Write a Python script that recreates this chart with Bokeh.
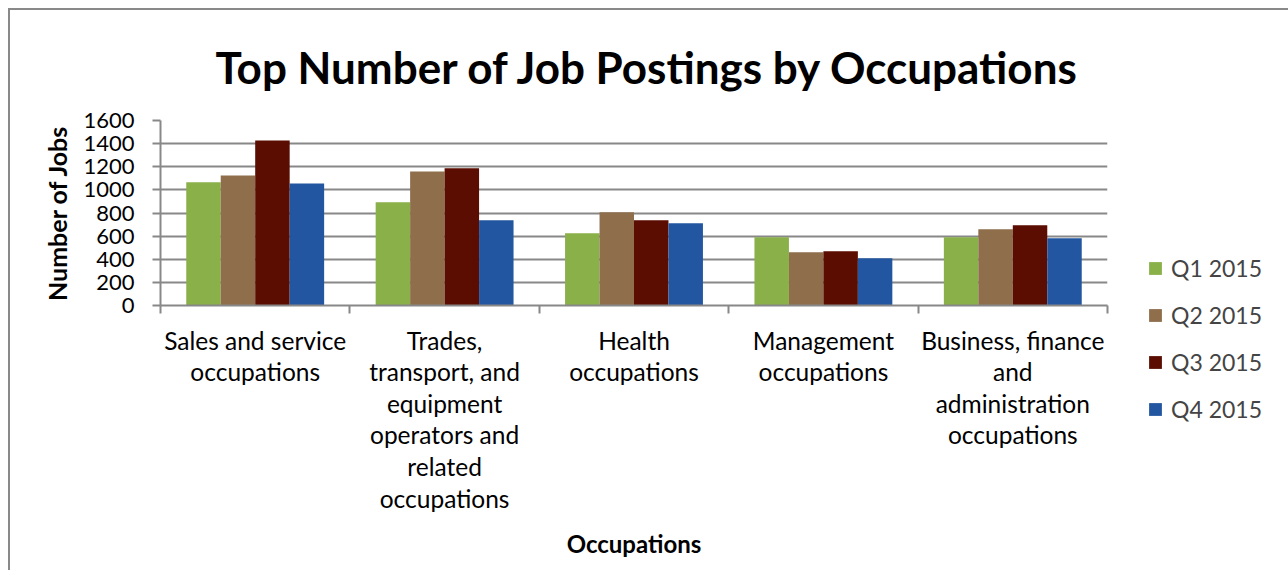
from bokeh.plotting import figure
from bokeh.models import (ColumnDataSource, FixedTicker, Legend, LegendItem, Range1d)
from bokeh.embed import file_html
from bokeh.resources import INLINE

categories = [
    "Sales and service\noccupations",
    "Trades,\ntransport, and\nequipment\noperators and\nrelated\noccupations",
    "Health\noccupations",
    "Management\noccupations",
    "Business, finance\nand\nadministration\noccupations",
]
series_names = ["Q1 2015", "Q2 2015", "Q3 2015", "Q4 2015"]
q1 = [1065, 892, 624, 590, 590]
q2 = [1125, 1160, 806, 460, 659]
q3 = [1427, 1186, 737, 469, 694]
q4 = [1056, 737, 711, 409, 581]
y_ticks = [0, 200, 400, 600, 800, 1000, 1200, 1400, 1600]

colors = ["#8ab049", "#8e6e4b", "#5a0d00", "#2356a0"]
series = [q1, q2, q3, q4]

FONT = "Lato"
GRID = "#888888"

p = figure(frame_width=947, frame_height=185, output_backend="svg", toolbar_location=None,
           x_range=Range1d(0, len(categories)), y_range=Range1d(0, 1600),
           min_border_left=150, min_border_right=170, min_border_top=110,
           min_border_bottom=265)
p.margin = (8, 0, 0, 8)
p.styles = {"border-left": "2px solid #898989", "border-top": "2px solid #898989"}
p.outline_line_color = None

p.title.text = "Top Number of Job Postings by Occupations"
p.title.text_font = FONT
p.title.text_font_size = "44px"
p.title.text_font_style = "bold"
p.title.text_color = "#000000"
p.title.align = "left"
p.title.offset = 55
p.title.standoff = 56

bar_w = 0.182
centers = [i + 0.5 for i in range(len(categories))]
renderers = []
for k, (vals, col) in enumerate(zip(series, colors)):
    xs = [c + (k - 1.5) * bar_w for c in centers]
    src = ColumnDataSource(dict(x=xs, top=vals))
    r = p.vbar(x="x", top="top", bottom=0, width=bar_w, source=src,
               fill_color=col, line_color=None)
    renderers.append(r)

# y axis
p.yaxis.ticker = FixedTicker(ticks=y_ticks)
p.yaxis.major_label_text_font = FONT
p.yaxis.major_label_text_font_size = "22px"
p.yaxis.major_label_text_color = "#000000"
p.yaxis.major_label_standoff = 18
p.yaxis.major_tick_out = 8
p.yaxis.major_tick_in = 0
p.yaxis.minor_tick_line_color = None
p.yaxis.axis_line_color = GRID
p.yaxis.axis_line_width = 2
p.yaxis.major_tick_line_color = GRID
p.yaxis.major_tick_line_width = 2
p.yaxis.axis_label = "Number of Jobs"
p.yaxis.axis_label_text_font = FONT
p.yaxis.axis_label_text_font_size = "25px"
p.yaxis.axis_label_text_font_style = "bold"
p.yaxis.axis_label_text_color = "#000000"
p.yaxis.axis_label_standoff = 8

# x axis: category labels at centres, ticks at boundaries
p.xaxis.ticker = FixedTicker(ticks=centers, minor_ticks=list(range(len(categories) + 1)))
p.xaxis.major_label_overrides = {c: n for c, n in zip(centers, categories)}
p.xaxis.major_label_text_font = FONT
p.xaxis.major_label_text_font_size = "24.5px"
p.xaxis.major_label_text_color = "#000000"
p.xaxis.major_label_text_line_height = 1.09
p.xaxis.major_label_standoff = 12
p.xaxis.major_tick_line_color = None
p.xaxis.major_tick_out = 0
p.xaxis.minor_tick_out = 8
p.xaxis.minor_tick_in = 0
p.xaxis.minor_tick_line_color = GRID
p.xaxis.minor_tick_line_width = 2
p.xaxis.axis_line_color = GRID
p.xaxis.axis_line_width = 2
p.xaxis.axis_label = "Occupations"
p.xaxis.axis_label_text_font = FONT
p.xaxis.axis_label_text_font_size = "24px"
p.xaxis.axis_label_text_font_style = "bold"
p.xaxis.axis_label_text_color = "#000000"
p.xaxis.axis_label_standoff = 13

p.xgrid.grid_line_color = None
p.ygrid.ticker = FixedTicker(ticks=y_ticks)
p.ygrid.grid_line_color = GRID
p.ygrid.grid_line_width = 2

legend = Legend(items=[LegendItem(label=n, renderers=[r]) for n, r in zip(series_names, renderers)],
                location=(40, -118), border_line_color=None, ncols=1,
                background_fill_alpha=0, glyph_width=16, glyph_height=16,
                label_height=20, spacing=19, label_standoff=8,
                label_text_font=FONT, label_text_font_size="23px", padding=0, margin=0)
p.add_layout(legend, "right")

open("out.html", "w").write(file_html(p, INLINE))
